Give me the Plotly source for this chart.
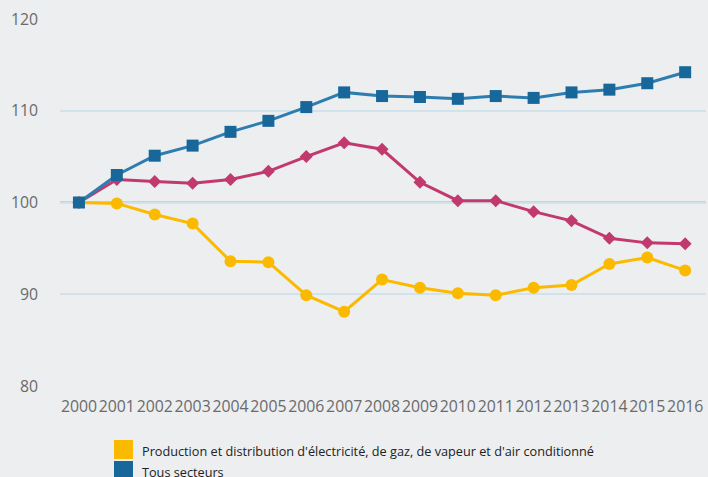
import plotly.graph_objects as go

years = [str(y) for y in range(2000, 2017)]
tous_secteurs = [100, 103.0, 105.1, 106.2, 107.7, 108.9, 110.4, 112.0, 111.6, 111.5, 111.3, 111.6, 111.4, 112.0, 112.3, 113.0, 114.2]
industrie = [100, 102.5, 102.3, 102.1, 102.5, 103.4, 105.0, 106.5, 105.8, 102.2, 100.2, 100.2, 99.0, 98.0, 96.1, 95.6, 95.5]
energie = [100, 99.9, 98.7, 97.7, 93.6, 93.5, 89.9, 88.1, 91.6, 90.7, 90.1, 89.9, 90.7, 91.0, 93.3, 94.0, 92.6]
legend_labels = ["Production et distribution d'électricité, de gaz, de vapeur et d'air conditionné", "Tous secteurs"]

YELLOW = "#fbba00"
BLUE_L = "#2e7db0"
BLUE_M = "#17679a"
MAG = "#c2396e"
BG = "#eceef0"

fig = go.Figure()
fig.add_trace(go.Scatter(x=years, y=industrie, mode="lines+markers",
                         line=dict(color=MAG, width=3),
                         marker=dict(symbol="diamond", size=10, color=MAG), showlegend=False))
fig.add_trace(go.Scatter(x=years, y=energie, mode="lines+markers",
                         line=dict(color=YELLOW, width=3),
                         marker=dict(symbol="circle", size=12, color=YELLOW), showlegend=False))
fig.add_trace(go.Scatter(x=years, y=tous_secteurs, mode="lines+markers",
                         line=dict(color=BLUE_L, width=3),
                         marker=dict(symbol="square", size=12, color=BLUE_M), showlegend=False))

L, R, T, B = 60, 706, 19, 386
W, H = 708, 477

def px(x):
    return (x - L) / (R - L)

def py(y):
    return (B - y) / (B - T)

shapes = [dict(type="line", xref="paper", yref="y", x0=0, x1=1, y0=100, y1=100,
               line=dict(color="#3c86b6", width=1.5), layer="below")]
annotations = []
for i, (lab, col) in enumerate(zip(legend_labels, [YELLOW, BLUE_M])):
    top = 440 + i * 21
    shapes.append(dict(type="rect", xref="paper", yref="paper",
                       x0=px(114), x1=px(133), y0=py(top), y1=py(top + 19),
                       fillcolor=col, line=dict(width=0)))
    annotations.append(dict(xref="paper", yref="paper", x=px(140), y=py(top + 10.5),
                            text=lab, showarrow=False, xanchor="left", yanchor="middle",
                            font=dict(size=12.7, color="#222222", family="Open Sans")))

fig.update_layout(
    width=W, height=H,
    margin=dict(l=L, r=W - R, t=T, b=H - B),
    paper_bgcolor=BG, plot_bgcolor=BG,
    shapes=shapes, annotations=annotations,
    font=dict(family="Open Sans", color="#666666"),
    xaxis=dict(type="category", range=[-0.5, 16.55], showgrid=False, zeroline=False,
               showline=False, ticks="", tickangle=0,
               tickfont=dict(size=15.8, color="#6a6a6a"), ticklabelstandoff=9),
    yaxis=dict(range=[80, 120], tickvals=[80, 90, 100, 110, 120], showgrid=True,
               gridcolor="#d0e2eb", gridwidth=1.5, zeroline=False, showline=False,
               tickfont=dict(size=15.8, color="#6a6a6a"), ticklabelstandoff=21),
    showlegend=False,
)

fig.write_html("out.html", config={"displayModeBar": False},
               post_script="document.body.style.margin='0';document.body.style.background='%s';document.body.style.overflow='hidden';" % BG)
